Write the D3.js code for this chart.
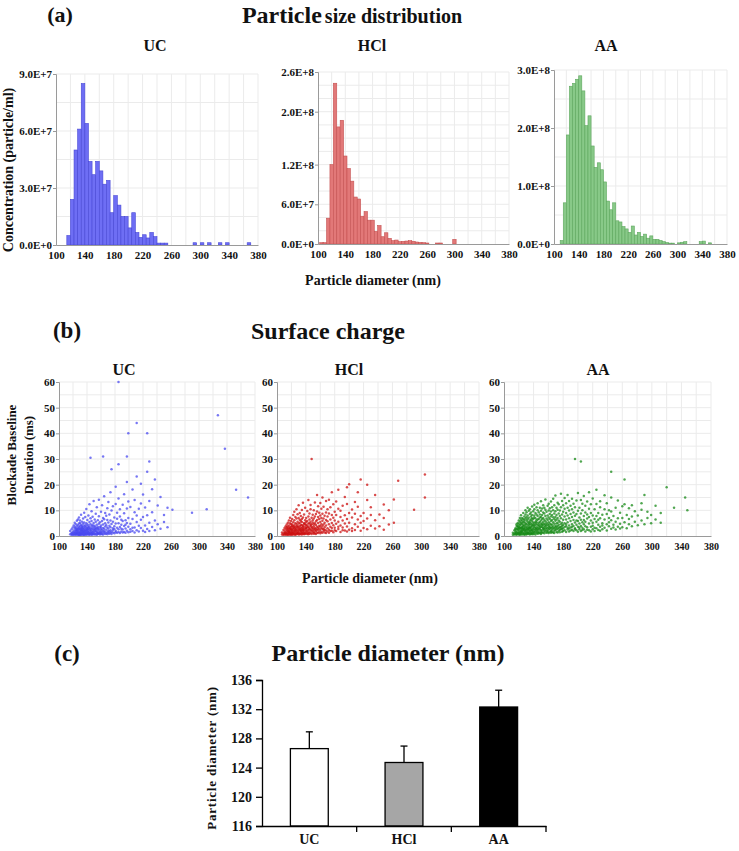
<!DOCTYPE html>
<html><head><meta charset="utf-8">
<script src="https://cdn.jsdelivr.net/npm/d3@7"></script>
<style>
body{margin:0;background:#fff}
svg{display:block;font-family:"Liberation Serif","Times New Roman",serif;font-weight:bold}
</style>
</head><body>
<svg id="c" width="739" height="851"></svg>
<script>
// ---------------- DATA ----------------
const groups = ["UC", "HCl", "AA"];
const binWidth = 5;

// (a) histogram bins: left edge (nm) and concentration (particle/ml)
const ucBinStart = 115;
const ucConc = [0.5e7,2.4e7,5.0e7,6.1e7,8.5e7,6.4e7,4.4e7,3.7e7,4.4e7,3.9e7,3.2e7,3.4e7,1.7e7,2.6e7,2.1e7,1.5e7,1.5e7,0.9e7,1.7e7,0.66e7,0.4e7,0.54e7,0.37e7,0.66e7,0.44e7,0.1e7,0.1e7,0.1e7];
const ucTailBins = [290,300,310,325,335,365];
const ucTailConc = [0.12e7,0.12e7,0.12e7,0.12e7,0.12e7,0.12e7];

const hclBinStart = 102.5;
const hclConc = [0.02e8,0.02e8,0.39e8,1.2e8,2.43e8,1.77e8,1.87e8,1.33e8,1.14e8,0.95e8,0.71e8,0.68e8,0.42e8,0.49e8,0.36e8,0.36e8,0.19e8,0.28e8,0.11e8,0.17e8,0.085e8,0.05e8,0.06e8,0.035e8,0.04e8,0.045e8,0.05e8,0.04e8,0.03e8,0.025e8,0.02e8,0.015e8];
const hclTailBins = [272.5,277.5,297.5];
const hclTailConc = [0.015e8,0.015e8,0.07e8];

const aaBinStart = 110;
const aaConc = [0.06e8,0.71e8,1.88e8,2.72e8,2.77e8,2.84e8,2.9e8,2.64e8,2.04e8,2.21e8,1.69e8,1.32e8,1.40e8,1.28e8,1.07e8,0.74e8,0.59e8,0.71e8,0.40e8,0.38e8,0.30e8,0.26e8,0.20e8,0.31e8,0.155e8,0.2e8,0.13e8,0.17e8,0.1e8,0.14e8,0.08e8,0.08e8,0.06e8,0.04e8,0.025e8,0.015e8,0.015e8];
const aaTailBins = [300,305,310,335,340,350];
const aaTailConc = [0.02e8,0.03e8,0.04e8,0.04e8,0.05e8,0.02e8];

const ucYTicks = [0,3e7,6e7,9e7];
const ucYLabels = ["0.0E+0","3.0E+7","6.0E+7","9.0E+7"];
const hclYTicks = [0,6e7,1.2e8,2e8,2.6e8];
const hclYLabels = ["0.0E+0","6.0E+7","1.2E+8","2.0E+8","2.6E+8"];
const aaYTicks = [0,1e8,2e8,3e8];
const aaYLabels = ["0.0E+0","1.0E+8","2.0E+8","3.0E+8"];
const diamTicks = [100,140,180,220,260,300,340,380];

// (b) scatter, grouped by diameter (nm): [diameter, [durations ms]]
const ucScatter = [
[116,[0.7,1.9]],[118,[0.4,2.6,1.2,0.9]],[119.5,[1.5,3.3,0.6]],[121,[0.8,2.1,4.1,1.4,0.5]],
[122.5,[2.9,0.6,1.7,3.6,5.2,1.1]],[124,[1.3,0.4,2.4,4.6,1.9,3.1,0.9]],[125.5,[0.7,3.8,2.2,1.1,5.9,1.6,2.7]],
[127,[2.0,0.5,4.3,1.4,3.0,0.9,6.4,2.5]],[128.5,[1.2,3.5,0.6,2.8,1.8,4.9,0.3,7.2]],
[130,[0.8,2.3,5.1,1.5,3.9,0.5,2.9,1.1,6.0]],[131.5,[3.2,1.0,0.4,2.6,4.4,1.7,8.3,2.1]],
[133,[0.6,1.9,3.6,2.4,0.9,5.6,1.3,4.0,3.0]],[134.5,[2.7,0.5,1.5,4.8,3.3,1.1,6.8,2.0]],
[136,[1.4,3.9,0.7,2.2,5.3,1.8,0.4,9.1,2.9]],[137.5,[0.9,2.5,4.2,1.3,3.4,0.6,7.4,1.9]],
[139,[2.1,0.5,1.6,3.7,5.0,2.8,1.1,10.5]],[140.5,[1.0,4.5,2.3,0.7,3.1,6.2,1.7,2.6]],
[142,[3.4,1.5,0.6,2.0,4.1,8.0,1.2,2.9]],[143.5,[0.8,2.6,5.5,1.4,3.6,0.5,12.4]],
[145,[1.9,0.7,3.0,4.6,2.3,1.2,6.9,30.5]],[146.5,[2.8,1.1,0.5,3.9,5.8,1.7,9.6]],
[148,[0.9,2.2,4.3,1.5,3.2,7.5,0.6]],[149.5,[1.6,3.7,0.8,2.5,5.1,13.6]],
[151,[2.4,1.0,4.0,0.6,3.0,6.4,1.8]],[152.5,[0.7,3.4,1.9,5.6,2.6,8.7]],
[154,[1.3,2.9,0.5,4.4,1.7,11.2]],[155.5,[3.6,1.1,2.2,6.1,0.8,3.0]],
[157,[0.9,2.7,4.8,1.5,7.7,14.1]],[158.5,[2.0,1.2,3.5,0.6,5.4]],
[160,[1.6,4.1,2.6,9.4,0.9,3.3]],[161.5,[0.7,2.3,5.8,1.4,12.0]],
[163,[3.1,1.8,0.6,4.5,7.0,31]],[164.5,[1.2,2.8,6.5,2.0,15.5]],
[166,[0.8,3.7,1.6,5.0,9.0]],[167.5,[2.4,1.0,4.2,7.9]],
[169,[1.5,3.3,0.7,6.2,10.8]],[170.5,[2.9,1.2,5.3,2.0,13.2]],
[172,[0.9,4.0,1.8,8.4]],[173.5,[2.2,1.3,6.0,3.4,17.0]],
[175,[1.7,4.7,0.8,9.9,26]],[177,[3.0,1.4,5.6,2.3,11.6]],
[179,[1.1,3.8,7.2,2.7]],[181,[2.0,4.9,1.5,12.5,19.2]],
[183,[1.3,3.2,6.7,9.1]],[185,[2.6,1.6,5.0,14.6,28,60]],
[187,[3.5,1.2,7.6,10.4]],[189,[1.8,4.4,2.8,6.3]],
[191,[2.5,5.8,1.4,12.2]],[193,[1.6,3.9,8.9,16.3]],
[195,[2.9,1.3,6.1,4.4]],[197,[2.0,5.1,10.7,21.0,31]],
[199,[1.5,3.6,7.0,13.4,40]],[202,[2.6,4.8,11.3,1.7]],
[205,[1.9,6.6,3.2,18.1]],[208,[3.3,1.4,9.3,14.0]],
[211,[2.2,5.5,8.0,23.2,44]],[214,[1.8,4.0,10.6]],
[217,[3.1,6.3,12.7,20.4]],[220,[2.0,7.4,16.2]],
[223,[4.1,1.6,11.1]],[226,[2.7,8.1,25.0,40]],
[229,[1.9,5.2,13.6,29]],[233,[3.5,9.3,18.2]],
[237,[2.2,6.0,22.0]],[241,[4.6,11.9]],[245,[2.8,15.2]],[250,[5.5,8.2]],[255,[3.4,11.0]],
[262,[10.2]],[290,[9.1]],[311,[10.4]],[327,[47]],[337,[34]],[353,[18]],[370,[15]]
];
const hclScatter = [
[107,[0.6,1.4]],[109,[1.0,0.4,2.3]],[110.5,[1.8,0.7,3.1,1.2]],[112,[2.5,0.5,1.4,3.8,0.9]],
[113.5,[1.1,2.9,0.6,4.5,1.9,3.4]],[115,[0.8,2.2,5.2,1.5,3.7,0.4,2.8]],
[116.5,[3.0,1.3,0.7,4.1,2.0,6.0,1.7]],[118,[1.6,0.5,3.4,2.5,5.0,1.0,7.1,2.9]],
[119.5,[0.9,2.7,4.6,1.4,3.6,0.6,5.8,2.2]],[121,[2.1,1.1,3.9,0.5,6.6,2.8,1.7,4.5]],
[122.5,[0.7,3.2,1.5,5.4,2.4,8.2,1.0,3.8]],[124,[1.9,4.2,0.6,2.9,1.3,6.1,3.5,9.4]],
[125.5,[2.6,0.9,5.0,1.7,3.3,7.4,0.5,2.2]],[127,[1.2,3.8,2.0,0.7,4.7,6.8,2.9,10.4]],
[128.5,[3.5,1.6,0.9,5.6,2.4,4.1,8.5,1.1]],[130,[0.6,2.8,4.9,1.9,3.4,7.0,1.3,12.0]],
[131.5,[2.2,1.0,3.9,6.3,2.8,0.7,5.2,9.0]],[133,[1.5,4.4,2.5,0.8,3.3,7.8,1.9,5.9]],
[134.5,[3.0,1.2,5.5,2.1,0.6,4.2,10.1,6.6]],[136,[0.9,2.6,4.0,1.6,7.2,3.5,13.0,2.2]],
[137.5,[2.0,5.1,1.1,3.0,8.4,0.7,4.6]],[139,[1.4,3.7,2.5,6.1,0.9,11.0,4.8]],
[140.5,[2.9,1.0,4.3,7.0,1.9,5.5,3.1]],[142,[0.8,3.4,2.1,5.8,9.7,1.5,4.1]],
[143.5,[2.4,4.9,1.3,3.6,7.6,14.0,0.7]],[145,[1.7,3.1,6.4,2.6,0.9,5.0,8.8]],
[146.5,[3.9,1.2,2.3,5.6,10.4,4.4,12.1]],[148,[0.8,2.9,4.6,1.9,7.1,3.6,30.0]],
[149.5,[2.2,5.3,1.4,3.2,8.3,6.1]],[151,[1.6,3.8,2.7,6.8,0.9,10.0,4.6]],
[152.5,[3.1,1.1,5.0,2.2,7.6,13.1]],[154,[1.9,4.3,2.8,8.6,5.7,0.8]],
[155.5,[2.5,6.2,1.4,3.6,9.5,16.0]],[157,[1.2,3.3,5.1,2.4,7.4,11.6]],
[158.5,[4.0,1.7,2.9,6.6,9.1]],[160,[2.3,5.5,1.1,3.8,8.0,12.9]],
[161.5,[1.6,3.1,7.0,4.6,10.6]],[163,[2.8,5.9,1.3,3.9,8.7,15.0]],
[164.5,[1.9,4.5,2.6,6.8,11.4]],[166,[3.4,1.4,5.2,7.9,2.4]],
[168,[2.1,4.1,9.2,6.2,1.2,13.6]],[170,[3.0,1.8,5.7,7.6,10.4]],
[172,[2.4,4.6,1.3,8.8,14.1]],[174,[3.6,1.9,6.4,11.2]],
[176,[2.0,5.1,3.1,8.2,17.0]],[178,[1.5,4.2,7.1,12.4]],
[180,[3.2,2.2,6.0,9.4]],[182,[1.9,4.8,8.2,13.4]],
[185,[2.7,5.6,3.6,10.6,18.0]],[188,[1.6,4.1,7.4,9.8]],
[191,[3.3,6.0,2.2,11.8]],[194,[2.1,4.9,8.1,15.2]],
[197,[3.7,1.8,6.6,12.5,19.0]],[200,[2.4,5.2,9.0,20.2]],
[204,[3.0,7.2,1.9,10.3]],[208,[2.3,4.6,8.7,13.2]],
[212,[3.6,6.4,11.4,17.0]],[216,[2.0,5.2,7.8,22.0]],
[220,[3.1,9.0,5.8]],[225,[2.6,6.8,14.0,20.0]],[230,[4.0,8.2,11.2]],
[236,[2.9,6.1,16.0]],[242,[3.8,8.4]],[248,[2.4,7.0,12.3]],[255,[4.5,10.0]],[262,[5.2,14.2]],
[268,[21.5]],[290,[10.2]],[305,[24,15]]
];
const aaScatter = [
[112,[0.5,1.3]],[114,[1.0,2.2,0.6]],[115.5,[1.8,0.7,3.0,1.3,2.5]],[117,[0.9,2.6,1.5,3.9,0.5,4.6]],
[118.5,[2.1,1.2,3.4,0.8,5.1,2.8,4.0]],[120,[1.5,3.7,0.6,2.4,4.8,1.1,6.0,3.0]],
[121.5,[2.9,0.9,4.3,1.8,5.6,3.4,0.5,7.0]],[123,[1.2,3.1,2.2,6.3,0.7,4.5,1.7,5.2,8.1]],
[124.5,[3.6,1.5,0.6,4.9,2.6,7.0,1.9,3.2,5.9]],[126,[0.8,2.3,5.4,1.3,3.8,6.6,2.9,4.4,9.0]],
[127.5,[2.0,4.0,1.0,3.0,7.6,0.5,5.6,2.6,6.2]],[129,[1.4,3.4,5.0,2.3,0.7,4.4,8.4,1.8,6.8,10.0]],
[130.5,[2.7,1.1,4.7,3.5,6.0,0.6,2.1,7.3,9.3]],[132,[0.9,3.0,1.7,5.6,2.5,4.1,8.0,6.5,1.3,11.0]],
[133.5,[2.3,4.6,1.2,3.6,7.1,0.8,5.2,9.8,2.9]],[135,[1.6,3.3,6.0,2.0,4.4,0.6,8.6,5.4,10.4,3.0]],
[136.5,[2.9,1.1,4.9,7.6,3.6,2.2,6.4,0.9,9.2]],[138,[1.3,3.9,2.4,5.8,0.7,8.2,4.5,11.5,6.9,1.9]],
[139.5,[2.6,4.3,1.6,6.6,3.2,9.6,0.8,5.3]],[141,[1.0,3.6,7.2,2.2,5.0,4.1,10.4,1.5,8.0,12.2]],
[142.5,[3.1,1.8,5.6,2.7,6.9,0.6,4.4,9.0]],[144,[2.0,4.8,1.2,3.4,8.4,6.1,11.2,2.6,5.4]],
[145.5,[1.5,3.0,6.4,4.2,0.9,7.8,2.3,10.0,12.8]],[147,[2.8,5.2,1.8,3.7,9.3,6.6,1.1,4.5]],
[148.5,[1.2,4.0,2.5,7.2,5.5,3.2,11.0,8.4]],[150,[3.4,1.6,6.0,2.2,4.6,9.8,0.8,7.4,13.5]],
[151.5,[2.1,5.0,3.6,1.3,8.2,6.6,10.7,4.2]],[153,[1.4,3.1,7.0,2.7,5.6,12.0,4.4,9.2]],
[154.5,[2.6,4.8,1.1,6.3,3.5,8.8,2.0,11.0]],[156,[1.8,3.9,5.7,2.9,7.8,10.2,4.5,14.2]],
[157.5,[3.2,1.3,6.8,4.1,9.4,2.2,5.2]],[159,[2.0,4.6,3.0,8.0,1.5,6.2,11.8]],
[160.5,[1.2,3.6,5.4,2.6,7.2,9.9,4.2,12.6]],[162,[2.8,1.7,4.9,6.6,3.5,8.6,10.8]],
[163.5,[2.0,5.8,3.1,7.6,1.3,9.5,13.4,4.4]],[165,[3.4,1.6,4.5,6.2,2.4,8.2,11.2]],
[166.5,[1.4,2.9,5.4,7.3,3.8,10.0,14.5]],[168,[3.0,4.8,2.0,6.6,8.8,1.2,12.0]],
[169.5,[2.3,4.0,5.9,3.3,9.6,7.4,15.8]],[171,[1.6,3.6,6.4,2.6,8.2,11.0,4.9]],
[172.5,[2.9,5.2,1.4,7.0,3.9,10.2,13.0]],[174,[2.0,4.4,6.0,3.1,8.8,12.4]],
[175.5,[3.5,1.5,5.6,7.8,2.4,9.9]],[177,[2.6,4.6,6.9,3.4,11.2,16.5]],
[178.5,[1.7,3.9,5.2,8.4,2.8,13.6]],[180,[3.0,6.3,4.3,9.4,1.9,12.0]],
[182,[2.2,5.0,3.5,7.6,10.6,14.8]],[184,[3.8,1.6,6.4,4.6,9.0,12.8]],
[186,[2.5,5.4,3.2,8.0,11.0,16.0]],[188,[1.8,4.1,6.9,2.9,9.9,13.6]],
[190,[3.3,5.8,2.1,8.6,11.8]],[192,[2.4,4.6,7.4,3.6,10.4,14.5]],
[194,[1.9,3.9,6.2,9.2,12.6]],[196,[3.0,5.3,2.6,7.9,11.2,30.0]],
[198,[2.2,4.4,8.6,6.0,13.8]],[200,[3.6,1.7,5.8,9.8,16.8]],
[202,[2.6,4.9,7.2,11.0,3.3]],[204,[1.9,6.3,3.9,8.8,14.0,29.0]],
[206,[3.2,5.4,2.3,10.0,12.6]],[208,[2.6,4.6,7.8,6.2,15.6]],
[210,[1.8,3.8,9.2,5.6,11.8]],[212.5,[3.4,6.8,2.4,8.4,13.4]],
[215,[2.2,4.9,7.4,10.6,17.0]],[217.5,[3.6,1.8,6.0,9.0,12.4]],
[220,[2.6,5.2,4.0,8.0,14.6]],[222.5,[1.9,6.6,3.2,10.4]],
[225,[3.0,5.6,7.8,12.5,18.0]],[227.5,[2.3,4.4,9.0,6.3]],
[230,[3.6,6.9,11.2,2.0,13.5]],[233,[2.6,5.0,8.3,4.1]],
[236,[3.2,6.4,10.4,15.9]],[239,[2.1,4.6,8.6,12.8]],
[242,[3.8,7.0,5.4,10.0]],[245,[2.8,6.1,9.5,15.0,25.0]],
[248,[4.4,7.8,3.3]],[251,[2.5,5.6,11.0]],[254,[3.6,6.9,13.8]],[257,[4.8,9.1,2.9]],
[260,[3.4,7.0,11.6]],[263,[5.4,12.4,22.0]],[266,[3.0,8.2]],[269,[4.6,10.8,6.6]],
[273,[3.8,7.6,12.0]],[277,[5.6,9.6]],[281,[4.2,8.0]],[286,[6.0,10.2,12.8]],
[290,[4.6,16.0]],[294,[7.0,9.4]],[299,[5.0,8.2]],[305,[6.4,11.8]],[312,[5.2,9.0]],
[320,[19.0]],[330,[11.0]],[345,[15.0]],[348,[10.0]]
];
const scatterYTicks = [0,10,20,30,40,50,60];

// (c) bar chart
const meanDiam = [126.6, 124.7, 132.3];
const errDiam = [2.3, 2.25, 2.3];
const barFills = ["#ffffff", "#a6a6a6", "#000000"];
const barYTicks = [116,120,124,128,132,136];

// ---------------- DRAW ----------------
const svg = d3.select("#c");
const gridColor = "#ebebeb", axisColor = "#9a9a9a";

function txt(x, y, s, size, anchor="middle", extra={}) {
  const t = svg.append("text").attr("x", x).attr("y", y).attr("font-size", size)
    .attr("text-anchor", anchor).attr("fill", "#111").text(s);
  for (const k in extra) t.attr(k, extra[k]);
  return t;
}
function styleText(sel, size) {
  sel.selectAll("text").attr("font-size", size).attr("font-family", "Liberation Serif")
    .attr("font-weight", "bold").attr("fill", "#111");
}

// ---- Section (a)
txt(60, 22, "(a)", 22);
const tA = svg.append("text").attr("x", 352).attr("y", 23).attr("text-anchor", "middle").attr("fill", "#111");
tA.append("tspan").attr("font-size", 24).text("Particle");
tA.append("tspan").attr("font-size", 20).attr("dx", 3).text("size distribution");

const histCfg = [
  {name:"UC", title:155, x0:56, x1:258, yb:245, yt:74, max:9e7, ticks:ucYTicks, labels:ucYLabels, start:ucBinStart, vals:ucConc, tb:ucTailBins, tv:ucTailConc, fill:"#6e6ef4", stroke:"#4848d6", hgrid:1.5e7},
  {name:"HCl", title:372, x0:318, x1:509, yb:244, yt:72, max:2.6e8, ticks:hclYTicks, labels:hclYLabels, start:hclBinStart, vals:hclConc, tb:hclTailBins, tv:hclTailConc, fill:"#e27878", stroke:"#c55252", hgrid:2e7},
  {name:"AA", title:606, x0:554, x1:727, yb:244, yt:70, max:3e8, ticks:aaYTicks, labels:aaYLabels, start:aaBinStart, vals:aaConc, tb:aaTailBins, tv:aaTailConc, fill:"#88c988", stroke:"#5ea75e", hgrid:5e7}
];

histCfg.forEach(c => {
  txt(c.title, 51, c.name, 16);
  const x = d3.scaleLinear().domain([100, 380]).range([c.x0, c.x1]);
  const y = d3.scaleLinear().domain([0, c.max]).range([c.yb, c.yt]);
  const g = svg.append("g");
  g.selectAll(".vg").data(d3.range(120, 381, 20)).join("line")
    .attr("x1", d => x(d)).attr("x2", d => x(d)).attr("y1", c.yb).attr("y2", c.yt)
    .attr("stroke", gridColor);
  g.selectAll(".hg").data(d3.range(c.hgrid, c.max + 1, c.hgrid)).join("line")
    .attr("x1", c.x0).attr("x2", c.x1).attr("y1", d => y(d)).attr("y2", d => y(d))
    .attr("stroke", gridColor);
  const bins = c.vals.map((v, i) => ({x0: c.start + i * binWidth, v}))
    .concat(c.tb.map((b, i) => ({x0: b, v: c.tv[i]})));
  g.selectAll(".bar").data(bins).join("rect")
    .attr("x", d => x(d.x0)).attr("width", d => x(d.x0 + binWidth) - x(d.x0))
    .attr("y", d => y(d.v)).attr("height", d => c.yb - y(d.v))
    .attr("fill", c.fill).attr("stroke", c.stroke).attr("stroke-width", 0.6);
  const gx = g.append("g").attr("transform", `translate(0,${c.yb})`)
    .call(d3.axisBottom(x).tickValues(diamTicks).tickSize(0).tickPadding(6));
  gx.select(".domain").attr("stroke", axisColor);
  styleText(gx, 11);
  const gy = g.append("g").attr("transform", `translate(${c.x0},0)`)
    .call(d3.axisLeft(y).tickValues(c.ticks).tickFormat((d, i) => c.labels[i]).tickSize(3).tickPadding(1));
  gy.select(".domain").attr("stroke", axisColor);
  gy.selectAll("line").attr("stroke", axisColor);
  styleText(gy, 11);
});
txt(10, 170, "Concentration  (particle/ml)", 14, "middle", {transform: "rotate(-90,10,170)", "dominant-baseline": "middle"});
txt(373, 285, "Particle diameter (nm)", 14);

// ---- Section (b)
txt(67, 338, "(b)", 23);
txt(328, 339, "Surface charge", 24);
const scCfg = [
  {name:"UC", title:124, x0:59, x1:255, data:ucScatter, col:"#4a4af0"},
  {name:"HCl", title:349, x0:277, x1:479, data:hclScatter, col:"#cc1010"},
  {name:"AA", title:598, x0:504, x1:711, data:aaScatter, col:"#178a17"}
];
const syB = 536, syT = 382;
scCfg.forEach(c => {
  txt(c.title, 375, c.name, 16);
  const x = d3.scaleLinear().domain([100, 380]).range([c.x0, c.x1]);
  const y = d3.scaleLinear().domain([0, 60]).range([syB, syT]);
  const g = svg.append("g");
  g.selectAll(".vg").data(d3.range(120, 381, 20)).join("line")
    .attr("x1", d => x(d)).attr("x2", d => x(d)).attr("y1", syB).attr("y2", syT)
    .attr("stroke", gridColor);
  g.selectAll(".hg").data(d3.range(5, 61, 5)).join("line")
    .attr("x1", c.x0).attr("x2", c.x1).attr("y1", d => y(d)).attr("y2", d => y(d))
    .attr("stroke", gridColor);
  const pts = c.data.flatMap(([d, ys]) => ys.map(v => [d, v]));
  g.selectAll(".pt").data(pts).join("circle")
    .attr("cx", d => x(d[0])).attr("cy", d => y(d[1])).attr("r", 1.25)
    .attr("fill", c.col).attr("opacity", 0.75);
  const gx = g.append("g").attr("transform", `translate(0,${syB})`)
    .call(d3.axisBottom(x).tickValues(diamTicks).tickSize(0).tickPadding(7));
  gx.select(".domain").attr("stroke", axisColor);
  styleText(gx, 10);
  const gy = g.append("g").attr("transform", `translate(${c.x0},0)`)
    .call(d3.axisLeft(y).tickValues(scatterYTicks).tickSize(3).tickPadding(1));
  gy.select(".domain").attr("stroke", axisColor);
  gy.selectAll("line").attr("stroke", axisColor);
  styleText(gy, 11);
});
txt(13, 455, "Blockade Baseline", 13, "middle", {transform: "rotate(-90,13,455)", "dominant-baseline": "middle"});
txt(30, 455, "Duration (ms)", 13, "middle", {transform: "rotate(-90,30,455)", "dominant-baseline": "middle"});
txt(370, 583, "Particle diameter (nm)", 14);

// ---- Section (c)
txt(67, 661, "(c)", 23);
txt(388, 661, "Particle diameter (nm)", 24);
const bx = d3.scaleBand().domain(groups).range([262, 546]);
const by = d3.scaleLinear().domain([116, 136]).range([826, 680]);
const gb = svg.append("g");
const bw = bx.bandwidth() * 0.4;
const cx = d => bx(d) + bx.bandwidth() / 2;
gb.selectAll(".b").data(groups).join("rect")
  .attr("x", d => cx(d) - bw / 2).attr("width", bw)
  .attr("y", (d, i) => by(meanDiam[i])).attr("height", (d, i) => 826 - by(meanDiam[i]))
  .attr("fill", (d, i) => barFills[i]).attr("stroke", "#000").attr("stroke-width", 1.3);
gb.selectAll(".e").data(groups).join("line")
  .attr("x1", cx).attr("x2", cx)
  .attr("y1", (d, i) => by(meanDiam[i])).attr("y2", (d, i) => by(meanDiam[i] + errDiam[i]))
  .attr("stroke", "#000").attr("stroke-width", 1.3);
gb.selectAll(".cap").data(groups).join("line")
  .attr("x1", d => cx(d) - 3.5).attr("x2", d => cx(d) + 3.5)
  .attr("y1", (d, i) => by(meanDiam[i] + errDiam[i])).attr("y2", (d, i) => by(meanDiam[i] + errDiam[i]))
  .attr("stroke", "#000").attr("stroke-width", 1.3);
const gby = gb.append("g").attr("transform", "translate(262,0)")
  .call(d3.axisLeft(by).tickValues(barYTicks).tickSize(6).tickPadding(4));
gby.select(".domain").attr("stroke", "#000").attr("stroke-width", 1.3);
gby.selectAll("line").attr("stroke", "#000").attr("stroke-width", 1.3);
styleText(gby, 14);
const gbx = gb.append("g").attr("transform", "translate(0,826)")
  .call(d3.axisBottom(bx).tickSize(0).tickPadding(8));
gbx.select(".domain").attr("stroke", "#000").attr("stroke-width", 1.3);
styleText(gbx, 14);
gb.selectAll(".xt").data(groups).join("line")
  .attr("x1", d => bx(d) + bx.bandwidth()).attr("x2", d => bx(d) + bx.bandwidth())
  .attr("y1", 826).attr("y2", 832).attr("stroke", "#000").attr("stroke-width", 1.3);
txt(213, 758, "Particle diameter (nm)", 13, "middle", {transform: "rotate(-90,213,758)", "dominant-baseline": "middle", "letter-spacing": "0.8"});
</script>
</body></html>
